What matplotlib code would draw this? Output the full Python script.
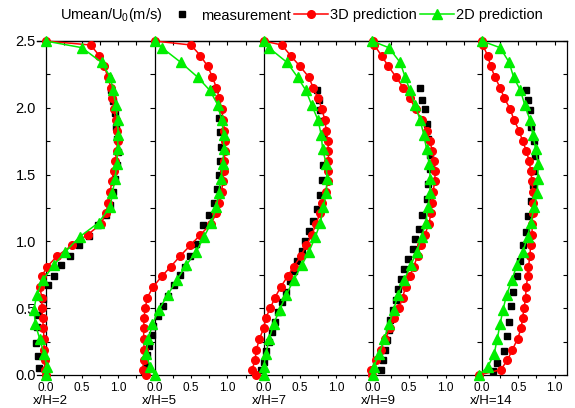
import matplotlib
matplotlib.use("Agg")
import matplotlib.pyplot as plt
from matplotlib.lines import Line2D
from matplotlib.ticker import FixedLocator, NullFormatter
from matplotlib.transforms import blended_transform_factory

plt.rcParams['font.family'] = ['Liberation Sans', 'DejaVu Sans']
plt.rcParams['mathtext.fontset'] = 'custom'
plt.rcParams['mathtext.rm'] = 'Liberation Sans'
plt.rcParams['mathtext.default'] = 'regular'

# ---------------- data ----------------
stations = ["x/H=2", "x/H=5", "x/H=7", "x/H=9", "x/H=14"]
offsets = [0.0, 1.5, 3.0, 4.5, 6.0]
x_tick_labels = ["0.0", "0.5", "1.0"]
x_tick_values = [0.0, 0.5, 1.0]
x_minor_values = [0.25, 0.75, 1.25]
y_ticks = [0.0, 0.5, 1.0, 1.5, 2.0, 2.5]
y_minor = [0.25, 0.75, 1.25, 1.75, 2.25]

# 3D prediction (red), shared heights
y_3d = [2.50, 2.47, 2.39, 2.31, 2.23, 2.15, 2.07, 1.99, 1.91, 1.83, 1.75, 1.68,
        1.60, 1.53, 1.45, 1.37, 1.29, 1.21, 1.13, 1.05, 0.97, 0.89, 0.81, 0.74,
        0.66, 0.58, 0.50, 0.43, 0.35, 0.27, 0.19, 0.11, 0.04, 0.00]
u3d_xh2 = [0.0, 0.62, 0.74, 0.81, 0.855, 0.90, 0.92, 0.94, 0.965, 0.98, 0.99, 0.98,
           0.96, 0.94, 0.91, 0.89, 0.865, 0.83, 0.76, 0.58, 0.36, 0.16, 0.02, -0.05,
           -0.08, -0.05, -0.05, -0.04, -0.03, -0.02, -0.02, -0.01, -0.01, 0.0]
u3d_xh5 = [0.0, 0.50, 0.63, 0.73, 0.795, 0.85, 0.89, 0.92, 0.945, 0.96, 0.965, 0.965,
           0.96, 0.955, 0.94, 0.92, 0.89, 0.85, 0.77, 0.63, 0.49, 0.35, 0.22, 0.10,
           -0.02, -0.10, -0.13, -0.145, -0.15, -0.15, -0.145, -0.15, -0.16, -0.12]
u3d_xh7 = [0.0, 0.25, 0.37, 0.50, 0.62, 0.68, 0.75, 0.80, 0.84, 0.86, 0.88, 0.89,
           0.89, 0.89, 0.88, 0.85, 0.80, 0.77, 0.72, 0.66, 0.585, 0.51, 0.41, 0.33,
           0.235, 0.155, 0.09, 0.03, 0.0, -0.06, -0.10, -0.12, -0.16, -0.10]
u3d_xh9 = [0.0, 0.02, 0.12, 0.215, 0.32, 0.42, 0.51, 0.59, 0.67, 0.74, 0.78, 0.82,
           0.84, 0.86, 0.85, 0.83, 0.82, 0.80, 0.77, 0.715, 0.66, 0.615, 0.56, 0.51,
           0.45, 0.41, 0.36, 0.29, 0.24, 0.17, 0.11, 0.05, -0.02, -0.01]
u3d_xh14 = [0.0, 0.01, 0.08, 0.12, 0.18, 0.25, 0.31, 0.39, 0.44, 0.51, 0.56, 0.61,
            0.65, 0.67, 0.69, 0.70, 0.705, 0.70, 0.69, 0.69, 0.67, 0.66, 0.64, 0.63,
            0.61, 0.60, 0.58, 0.56, 0.54, 0.49, 0.42, 0.35, 0.26, -0.04]

# 2D prediction (green), shared heights
y_2d = [2.50, 2.45, 2.34, 2.23, 2.13, 2.02, 1.91, 1.80, 1.69, 1.58, 1.47, 1.36,
        1.26, 1.14, 1.035, 0.92, 0.82, 0.71, 0.60, 0.49, 0.38, 0.27, 0.16, 0.06, 0.00]
u2d_xh2 = [0.0, 0.50, 0.77, 0.89, 0.93, 0.965, 0.99, 1.0, 0.99, 0.98, 0.955, 0.92,
           0.89, 0.73, 0.47, 0.27, 0.11, -0.04, -0.12, -0.16, -0.14, -0.08, -0.02, 0.02, 0.0]
u2d_xh5 = [0.0, 0.10, 0.36, 0.59, 0.76, 0.87, 0.92, 0.95, 0.95, 0.94, 0.91, 0.88,
           0.85, 0.78, 0.68, 0.57, 0.43, 0.305, 0.18, 0.06, -0.03, -0.085, -0.12, -0.06, 0.0]
u2d_xh7 = [0.0, 0.07, 0.32, 0.465, 0.58, 0.66, 0.745, 0.79, 0.81, 0.86, 0.87, 0.86,
           0.82, 0.78, 0.71, 0.62, 0.52, 0.41, 0.31, 0.22, 0.135, 0.075, 0.03, 0.0, 0.0]
u2d_xh9 = [-0.01, 0.22, 0.375, 0.445, 0.51, 0.58, 0.65, 0.70, 0.74, 0.775, 0.79, 0.785,
           0.76, 0.73, 0.67, 0.605, 0.52, 0.43, 0.35, 0.285, 0.225, 0.155, 0.09, 0.01, 0.0]
u2d_xh14 = [0.0, 0.25, 0.375, 0.435, 0.53, 0.59, 0.66, 0.70, 0.74, 0.77, 0.77, 0.76,
            0.72, 0.67, 0.63, 0.56, 0.48, 0.41, 0.34, 0.29, 0.25, 0.21, 0.17, 0.08, -0.04]

# measurements (black squares)
ym_xh2 = [2.13, 2.05, 1.96, 1.86, 1.77, 1.67, 1.57, 1.47, 1.37, 1.27, 1.20, 1.12,
          1.04, 0.97, 0.89, 0.82, 0.74, 0.67, 0.57, 0.45, 0.36, 0.24, 0.14, 0.05]
um_xh2 = [0.90, 0.93, 0.95, 0.97, 0.98, 0.99, 0.98, 0.95, 0.93, 0.88, 0.83, 0.72,
          0.60, 0.46, 0.33, 0.21, 0.12, 0.04, -0.04, -0.10, -0.12, -0.13, -0.11, -0.085]
ym_xh5 = [2.14, 1.92, 1.82, 1.71, 1.60, 1.50, 1.39, 1.29, 1.20, 1.12, 0.98, 0.89,
          0.81, 0.75, 0.67, 0.59, 0.52, 0.44, 0.37, 0.30, 0.22, 0.15, 0.07, 0.03]
um_xh5 = [0.83, 0.89, 0.90, 0.91, 0.90, 0.88, 0.86, 0.81, 0.75, 0.66, 0.57, 0.49,
          0.42, 0.35, 0.26, 0.19, 0.12, 0.04, -0.02, -0.04, -0.075, -0.10, -0.12, -0.14]
ym_xh7 = [2.13, 2.06, 1.98, 1.90, 1.79, 1.68, 1.57, 1.46, 1.35, 1.24, 1.155, 1.08,
          1.00, 0.93, 0.85, 0.78, 0.70, 0.62, 0.55, 0.47, 0.40, 0.32, 0.25, 0.18, 0.10, 0.04]
um_xh7 = [0.73, 0.76, 0.78, 0.80, 0.82, 0.83, 0.82, 0.80, 0.78, 0.73, 0.68, 0.62,
          0.57, 0.52, 0.46, 0.41, 0.36, 0.31, 0.25, 0.20, 0.16, 0.11, 0.07, 0.035, 0.0, -0.04]
ym_xh9 = [2.15, 2.06, 1.99, 1.88, 1.77, 1.65, 1.54, 1.43, 1.32, 1.20, 1.09, 1.02,
          0.94, 0.87, 0.79, 0.72, 0.64, 0.56, 0.49, 0.41, 0.34, 0.26, 0.19, 0.11, 0.04]
um_xh9 = [0.65, 0.68, 0.72, 0.74, 0.76, 0.78, 0.78, 0.76, 0.74, 0.68, 0.64, 0.58,
          0.55, 0.49, 0.43, 0.39, 0.35, 0.32, 0.28, 0.24, 0.22, 0.20, 0.17, 0.14, 0.11]
ym_xh14 = [2.13, 2.06, 1.98, 1.86, 1.75, 1.64, 1.53, 1.42, 1.30, 1.19, 1.07, 0.97,
           0.85, 0.74, 0.62, 0.52, 0.40, 0.29, 0.18, 0.09, 0.03]
um_xh14 = [0.605, 0.63, 0.66, 0.68, 0.71, 0.73, 0.71, 0.70, 0.67, 0.63, 0.605, 0.57,
           0.53, 0.48, 0.43, 0.40, 0.37, 0.34, 0.30, 0.21, 0.15]

u3d = [u3d_xh2, u3d_xh5, u3d_xh7, u3d_xh9, u3d_xh14]
u2d = [u2d_xh2, u2d_xh5, u2d_xh7, u2d_xh9, u2d_xh14]
ym = [ym_xh2, ym_xh5, ym_xh7, ym_xh9, ym_xh14]
um = [um_xh2, um_xh5, um_xh7, um_xh9, um_xh14]

RED = '#ff0000'
GREEN = '#00ee00'

# ---------------- figure ----------------
W, H = 575, 408
fig = plt.figure(figsize=(W / 100, H / 100), dpi=100)
x0_px, x1_px, yb_px, yt_px = 36.8, 567, 375, 41
ax = fig.add_axes([x0_px / W, 1 - yb_px / H, (x1_px - x0_px) / W, (yb_px - yt_px) / H])
ax.set_xlim(-0.12, 7.17)
ax.set_ylim(0, 2.5)

for i, off in enumerate(offsets):
    ax.plot([off + v for v in um[i]], ym[i], ls='none', marker='s', ms=5,
            color='black', zorder=3, clip_on=False)
    ax.plot([off + v for v in u3d[i]], y_3d, '-', color=RED, lw=1.1, marker='o',
            ms=5.5, mec=RED, mfc=RED, zorder=4, clip_on=False)
    ax.plot([off + v for v in u2d[i]], y_2d, '-', color=GREEN, lw=1.1, marker='^',
            ms=6.5, mec=GREEN, mfc=GREEN, zorder=5, clip_on=False)

# spines
for s in ax.spines.values():
    s.set_linewidth(0.9)
ax.spines['left'].set_position(('data', 0))

# interior panel lines with leftward ticks
yt_all = sorted(y_ticks + y_minor)
for off in offsets[1:]:
    ax.axvline(off, color='black', lw=0.9, zorder=2)
    ax.hlines(yt_all, off - 0.065, off, color='black', lw=0.8, zorder=2)

# x ticks
major_x = [off + v for off in offsets for v in x_tick_values]
minor_x = [off + v for off in offsets for v in x_minor_values]
ax.xaxis.set_major_locator(FixedLocator(major_x))
ax.xaxis.set_minor_locator(FixedLocator(minor_x))
ax.set_xticklabels(x_tick_labels * len(offsets))
ax.tick_params(axis='x', which='both', direction='out', length=2.5, width=0.8,
               labelsize=8.5, pad=2.5, top=False)

sec = ax.secondary_xaxis('top')
sec.xaxis.set_major_locator(FixedLocator(major_x))
sec.xaxis.set_minor_locator(FixedLocator(minor_x))
sec.xaxis.set_major_formatter(NullFormatter())
sec.tick_params(axis='x', which='both', direction='in', length=3, width=0.8)
sec.spines['top'].set_linewidth(0.9)

# y ticks
ax.yaxis.set_major_locator(FixedLocator(y_ticks))
ax.yaxis.set_minor_locator(FixedLocator(y_minor))
ax.set_yticklabels([f"{v:.1f}" for v in y_ticks])
ax.tick_params(axis='y', which='both', direction='in', length=3, width=0.8,
               left=True, right=True, labelsize=10.5, pad=7)

# station labels
tr = blended_transform_factory(ax.transData, fig.transFigure)
for off, name in zip(offsets, stations):
    ax.text(off - 0.17, 1 - 401 / H, name, transform=tr, ha='left', va='center',
            fontsize=9.5)

# legend
fig.text(60 / W, 1 - 15.5 / H, "Umean/U$_0$(m/s)", ha='left', va='center', fontsize=10.5)
handles = [
    Line2D([], [], ls='none', marker='s', ms=5, color='black'),
    Line2D([], [], color=RED, lw=1.1, marker='o', ms=5.5),
    Line2D([], [], color=GREEN, lw=1.1, marker='^', ms=6.5),
]
labels = ["measurement", "3D prediction", "2D prediction"]
fig.legend(handles, labels, loc='center left', bbox_to_anchor=(165 / W, 1 - 15.5 / H),
           ncol=3, frameon=False, handlelength=2.3, handletextpad=0.15,
           columnspacing=0.25, fontsize=10.5, borderaxespad=0, borderpad=0)

fig.savefig("out.png", dpi=100)
